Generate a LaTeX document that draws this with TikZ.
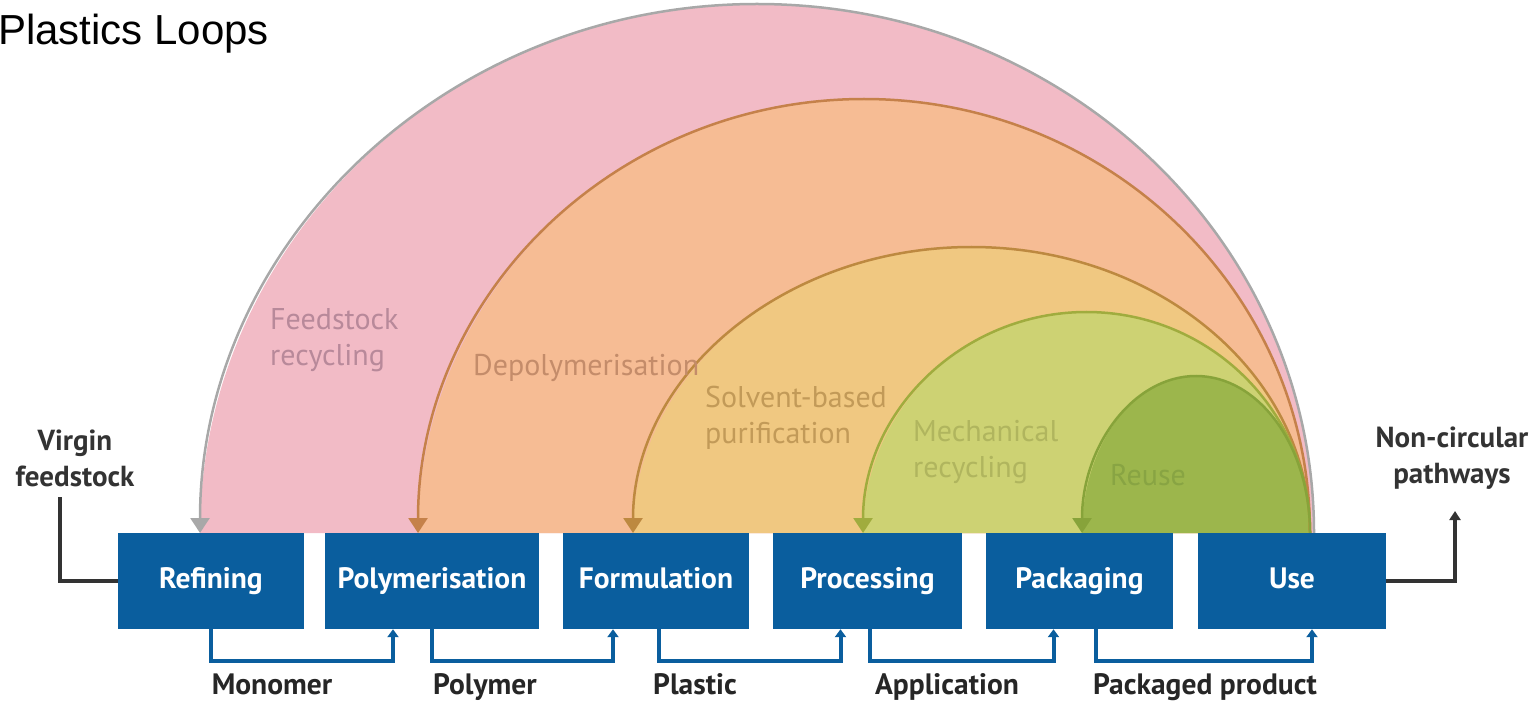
\documentclass[tikz,border=0pt]{standalone}
\usepackage{fontspec}
\setmainfont{PT Sans}
\newfontfamily\titlefont{Liberation Sans}
\usetikzlibrary{arrows.meta}
\definecolor{boxblue}{HTML}{0A5E9E}
\definecolor{pinkfill}{HTML}{F2BBC6}
\definecolor{pinkline}{HTML}{A8A8A8}
\definecolor{pinktext}{HTML}{B8899A}
\definecolor{orfill}{HTML}{F6BC94}
\definecolor{orline}{HTML}{C5814A}
\definecolor{ortext}{HTML}{C48C6A}
\definecolor{sofill}{HTML}{F0C881}
\definecolor{soline}{HTML}{BD8940}
\definecolor{sotext}{HTML}{C29A58}
\definecolor{mefill}{HTML}{CDD273}
\definecolor{meline}{HTML}{A0AC3E}
\definecolor{metext}{HTML}{B0B55E}
\definecolor{refill}{HTML}{9CB64C}
\definecolor{reline}{HTML}{87A33A}
\definecolor{retext}{HTML}{88A443}
\definecolor{darkline}{HTML}{333333}
\tikzset{
  stagebox/.style={fill=boxblue, text=white, inner sep=0pt, minimum height=96pt,
    text height=21pt, text depth=6pt,
    font=\bfseries\fontsize{29.5}{32}\selectfont},
  bracket/.style={draw=boxblue, line width=4pt, -{Triangle[width=11pt,length=8pt]}},
  loopline/.style={line width=2.5pt, -{Triangle[width=19pt,length=15pt]}},
  looptext/.style={anchor=west, align=left, inner sep=0pt, font=\fontsize{30}{36}\selectfont},
  outtext/.style={align=center, inner sep=0pt, text=darkline, font=\bfseries\fontsize{29}{36}\selectfont},
  flowtext/.style={anchor=base, inner sep=0pt, text=black!85, font=\bfseries\fontsize{29.5}{30}\selectfont},
  outline/.style={draw=darkline, line width=4pt},
}
\begin{document}
\begin{tikzpicture}[x=1pt,y=1pt]
\useasboundingbox (0,0) rectangle (1534,-703);

% title
\node[anchor=base west, inner sep=0pt, font=\titlefont\fontsize{42}{48}\selectfont] (title) at (-2,-45) {Plastics Loops};

% base coordinates of the loops
\coordinate (pinkR) at (1314,-533);
\coordinate (orR) at (1310,-533);
\coordinate (soR) at (1310,-533);
\coordinate (meR) at (1310,-533);
\coordinate (reR) at (1310,-533);

% fills
\fill[pinkfill] (pinkR) arc[start angle=0,end angle=180,x radius=557pt,y radius=529pt] -- cycle;
\fill[orfill] (orR) arc[start angle=0,end angle=180,x radius=446pt,y radius=434pt] -- cycle;
\fill[sofill] (soR) arc[start angle=0,end angle=180,x radius=338.5pt,y radius=286pt] -- cycle;
\fill[mefill] (meR) arc[start angle=0,end angle=180,x radius=223.5pt,y radius=221pt] -- cycle;
\fill[refill] (reR) arc[start angle=0,end angle=180,x radius=114pt,y radius=157pt] -- cycle;

% arc lines
\draw[loopline, draw=pinkline, fill=none] (pinkR) arc[start angle=0,end angle=180,x radius=557pt,y radius=529pt];
\draw[loopline, draw=orline] (orR) arc[start angle=0,end angle=180,x radius=446pt,y radius=434pt];
\draw[loopline, draw=soline] (soR) arc[start angle=0,end angle=180,x radius=338.5pt,y radius=286pt];
\draw[loopline, draw=meline] (meR) arc[start angle=0,end angle=180,x radius=223.5pt,y radius=221pt];
\draw[loopline, draw=reline] (reR) arc[start angle=0,end angle=180,x radius=114pt,y radius=157pt];

% loop labels
\node[looptext, text=pinktext] (lfeed) at (270,-340) {Feedstock\\recycling};
\node[looptext, text=ortext] (ldepol) at (473,-368) {Depolymerisation};
\node[looptext, text=sotext] (lsolv) at (705,-418) {Solvent-based\\purification};
\node[looptext, text=metext] (lmech) at (913,-452) {Mechanical\\recycling};
\node[looptext, text=retext] (lreuse) at (1110,-475) {Reuse};

% boxes
\node[stagebox, minimum width=186pt] (ref) at (211,-581) {Refining};
\node[stagebox, minimum width=214pt] (poly) at (432,-581) {Polymerisation};
\node[stagebox, minimum width=186pt] (form) at (656,-581) {Formulation};
\node[stagebox, minimum width=189pt] (proc) at (867.5,-581) {Processing};
\node[stagebox, minimum width=187pt] (pack) at (1079.5,-581) {Packaging};
\node[stagebox, minimum width=188pt] (use) at (1292,-581) {Use};

% brackets
\draw[bracket] (ref.south) -- ++(0,-32) -| ([xshift=-39pt]poly.south);
\draw[bracket] (poly.south) -- ++(0,-32) -| ([xshift=-43pt]form.south);
\draw[bracket] ([xshift=3pt]form.south) -- ++(0,-32) -| ([xshift=-27pt]proc.south);
\draw[bracket] ([xshift=2pt]proc.south) -- ++(0,-32) -| ([xshift=-26pt]pack.south);
\draw[bracket] ([xshift=16pt]pack.south) -- ++(0,-32) -| ([xshift=20pt]use.south);

% bottom labels
\node[flowtext] (mono) at (272,-694) {Monomer};
\node[flowtext] (polym) at (485,-694) {Polymer};
\node[flowtext] (plast) at (695,-694) {Plastic};
\node[flowtext] (appl) at (947,-694) {Application};
\node[flowtext] (pprod) at (1205,-694) {Packaged product};

% side texts and connectors
\node[outtext] (virgin) at (75,-458) {Virgin\\feedstock};
\node[outtext] (noncirc) at (1452,-458) {Non-circular\\pathways};
\coordinate (vend) at (60,-497);
\coordinate (nend) at (1455,-511);
\draw[outline] (vend) |- (ref.west);
\draw[outline, -{Triangle[width=11pt,length=9pt]}] (use.east) -| (nend);
\end{tikzpicture}
\end{document}
